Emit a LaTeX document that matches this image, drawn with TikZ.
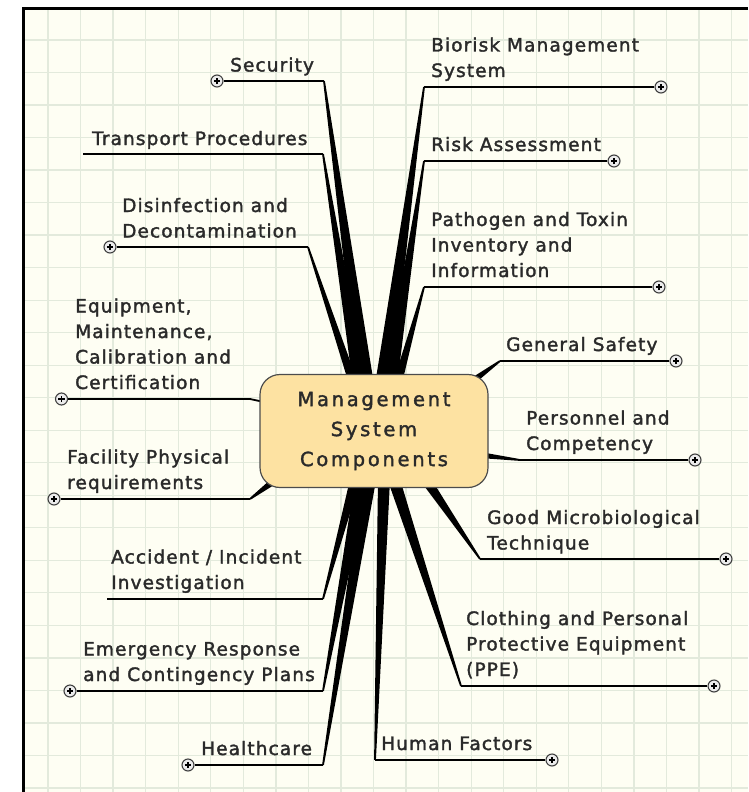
\documentclass[tikz,border=0pt]{standalone}
\usepackage{fontspec}
\setmainfont{DejaVu Sans}
\newfontfamily\labelfont[LetterSpace=6,FakeBold=1.8]{DejaVu Sans}
\newfontfamily\centerfont[LetterSpace=14,FakeBold=1.8]{DejaVu Sans}
\usetikzlibrary{calc}
\definecolor{bg}{HTML}{FEFEF3}
\definecolor{gridc}{HTML}{E3EADC}
\definecolor{boxfill}{HTML}{FDE2A2}
\definecolor{txt}{HTML}{2A2A2A}
\tikzset{
  lbl/.style={anchor=base west, inner sep=0pt, align=left, text=txt,
    font=\labelfont\fontsize{18.5}{25.5}\selectfont},
  uline/.style={line width=1.8pt, black},
  knob/.style={circle, draw=black!75, fill=white!85!gray, line width=1.1pt,
    minimum size=12pt, inner sep=0pt,
    path picture={\draw[line width=1.3pt, black]
      (path picture bounding box.center) +(-3.2pt,0) -- +(3.2pt,0)
      (path picture bounding box.center) +(0,-3.2pt) -- +(0,3.2pt);}},
  hub/.style={draw=black!70, fill=boxfill, line width=1.2pt, rounded corners=20pt,
    minimum width=228pt, minimum height=113pt, inner sep=0pt, align=center, text=txt,
    font=\centerfont\fontsize{19.5}{30}\selectfont},
  branchfill/.style={fill=black}
}
\newcommand\branchwedge[3]{%
  \fill[branchfill] ($(#1)!0.9pt!90:(#2)$) -- ($(#2)!#3!-90:(#1)$) --
    ($(#2)!#3!90:(#1)$) -- ($(#1)!0.9pt!-90:(#2)$) -- cycle;}
\begin{document}
\begin{tikzpicture}[x=1pt,y=-1pt]
\useasboundingbox (0,0) rectangle (748,792);
% background and grid
\fill[bg] (22,8) rectangle (748,792);
\begin{scope}
  \clip (22,8) rectangle (748,792);
  \foreach \k in {1,...,22} \draw[gridc, line width=1.3pt] ({15.45+32.55*\k},8) -- ({15.45+32.55*\k},792);
  \foreach \k in {0,...,23} \draw[gridc, line width=1.3pt] (22,{40+32.52*\k}) -- (748,{40+32.52*\k});
\end{scope}
\draw[black, line width=3pt] (23.5,792) -- (23.5,8.5) -- (748,8.5);

% connector end points (inner ends of the underlines)
\coordinate (sec) at (324,81);
\coordinate (tra) at (323,154);
\coordinate (dis) at (308,247);
\coordinate (equ) at (250,399);
\coordinate (fac) at (250,499);
\coordinate (acc) at (323,599);
\coordinate (eme) at (323,691);
\coordinate (hea) at (323,765);
\coordinate (bio) at (424,87);
\coordinate (ris) at (424,161);
\coordinate (pat) at (424,287);
\coordinate (gen) at (500,361);
\coordinate (per) at (520,460);
\coordinate (goo) at (480,559);
\coordinate (clo) at (461,686);
\coordinate (hum) at (375,760);
% base points inside the hub
\coordinate (b-sec) at (366,385);
\coordinate (b-tra) at (360,385);
\coordinate (b-dis) at (354,385);
\coordinate (b-bio) at (383,385);
\coordinate (b-ris) at (390,385);
\coordinate (b-pat) at (397,385);
\coordinate (b-gen) at (470,383);
\coordinate (b-per) at (480,455);
\coordinate (b-fac) at (270,484);
\coordinate (b-equ) at (264,402);
\coordinate (b-acc) at (355,480);
\coordinate (b-eme) at (362,480);
\coordinate (b-hea) at (369,480);
\coordinate (b-hum) at (384,480);
\coordinate (b-clo) at (394,480);
\coordinate (b-goo) at (426,480);
% free starts of underlines without knob
\coordinate (tra0) at (83,154);
\coordinate (acc0) at (107,599);

% tapered branches
\branchwedge{sec}{b-sec}{8pt}
\branchwedge{tra}{b-tra}{7pt}
\branchwedge{dis}{b-dis}{4.5pt}
\branchwedge{bio}{b-bio}{8pt}
\branchwedge{ris}{b-ris}{7pt}
\branchwedge{pat}{b-pat}{4.5pt}
\branchwedge{gen}{b-gen}{3.5pt}
\branchwedge{per}{b-per}{3pt}
\branchwedge{fac}{b-fac}{3pt}
\branchwedge{acc}{b-acc}{5pt}
\branchwedge{eme}{b-eme}{7pt}
\branchwedge{hea}{b-hea}{7pt}
\branchwedge{hum}{b-hum}{6pt}
\branchwedge{clo}{b-clo}{6pt}
\branchwedge{goo}{b-goo}{5pt}
\draw[uline] (equ) -- (b-equ);

% knobs
\node[knob] (k-sec) at (217,81) {};
\node[knob] (k-dis) at (110,247) {};
\node[knob] (k-equ) at (61.5,399) {};
\node[knob] (k-fac) at (54,499) {};
\node[knob] (k-eme) at (70,691) {};
\node[knob] (k-hea) at (188,765) {};
\node[knob] (k-bio) at (661,87) {};
\node[knob] (k-ris) at (614,161) {};
\node[knob] (k-pat) at (659,287) {};
\node[knob] (k-gen) at (676,361) {};
\node[knob] (k-per) at (695,460) {};
\node[knob] (k-goo) at (726,559) {};
\node[knob] (k-clo) at (714,686) {};
\node[knob] (k-hum) at (552,760) {};

% underlines
\draw[uline] (k-sec) -- (sec);
\draw[uline] (tra0) -- (tra);
\draw[uline] (k-dis) -- (dis);
\draw[uline] (k-equ) -- (equ);
\draw[uline] (k-fac) -- (fac);
\draw[uline] (acc0) -- (acc);
\draw[uline] (k-eme) -- (eme);
\draw[uline] (k-hea) -- (hea);
\draw[uline] (k-bio) -- (bio);
\draw[uline] (k-ris) -- (ris);
\draw[uline] (k-pat) -- (pat);
\draw[uline] (k-gen) -- (gen);
\draw[uline] (k-per) -- (per);
\draw[uline] (k-goo) -- (goo);
\draw[uline] (k-clo) -- (clo);
\draw[uline] (k-hum) -- (hum);

% hub
\node[hub] (center) at (374,431) {Management\\System\\Components};

% labels (multi-line labels are anchored at their last line)
\node[lbl] (t-sec) at (230,71.5) {Security};
\node[lbl] (t-tra) at (92,145) {Transport Procedures};
\node[lbl] (t-dis) at (122,237.5) {Disinfection and\\Decontamination};
\node[lbl] (t-equ) at (75,389) {Equipment,\\Maintenance,\\Calibration and\\Certification};
\node[lbl] (t-fac) at (67,489) {Facility Physical\\requirements};
\node[lbl] (t-acc) at (111,589) {Accident / Incident\\Investigation};
\node[lbl] (t-eme) at (83,681) {Emergency Response\\and Contingency Plans};
\node[lbl] (t-hea) at (201,755) {Healthcare};
\node[lbl] (t-bio) at (431,77) {Biorisk Management\\System};
\node[lbl] (t-ris) at (431,151) {Risk Assessment};
\node[lbl] (t-pat) at (431,277) {Pathogen and Toxin\\Inventory and\\Information};
\node[lbl] (t-gen) at (506,351) {General Safety};
\node[lbl] (t-per) at (526,450) {Personnel and\\Competency};
\node[lbl] (t-goo) at (487,549.5) {Good Microbiological\\Technique};
\node[lbl] (t-clo) at (466,676) {Clothing and Personal\\Protective Equipment\\(PPE)};
\node[lbl] (t-hum) at (381,750) {Human Factors};
\end{tikzpicture}
\end{document}
